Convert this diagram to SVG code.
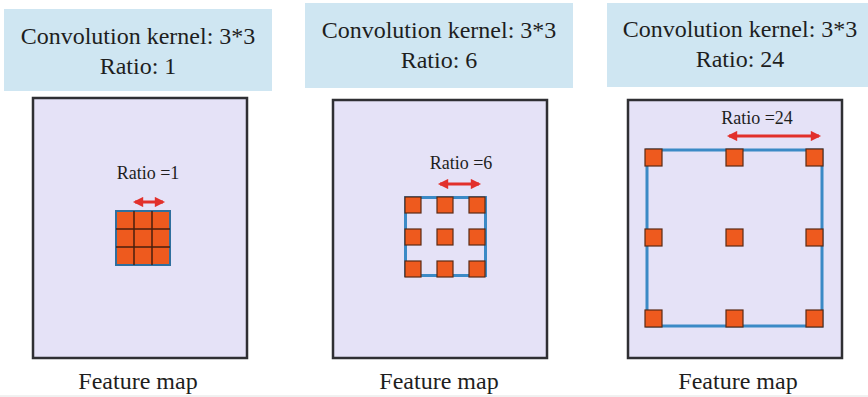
<svg xmlns="http://www.w3.org/2000/svg" width="868" height="397" viewBox="0 0 868 397">
  <style>
    .hdr { fill: #cfe6f2; }
    .hdr-text { font-family: "Liberation Serif", "Times New Roman", serif; font-size: 24px; fill: #1e1e1e; text-anchor: middle; }
    .map { fill: #e5e2f7; stroke: #2f2f33; stroke-width: 2.5; }
    .cap { font-family: "Liberation Serif", "Times New Roman", serif; font-size: 24px; fill: #1e1e1e; text-anchor: middle; }
    .lbl { font-family: "Liberation Serif", "Times New Roman", serif; font-size: 18px; fill: #1e1e1e; text-anchor: middle; }
    .field { fill: none; stroke: #3b8ac6; stroke-width: 3; }
    .cell { fill: #ee5a1e; stroke: #5a2a14; stroke-width: 1.2; }
    .span { stroke: #e2302b; stroke-width: 3; fill: none; marker-start: url(#head); marker-end: url(#head); }
  </style>
  <defs>
    <marker id="head" viewBox="0 0 10 10" refX="8" refY="5" markerWidth="3.8" markerHeight="3.4" orient="auto-start-reverse" markerUnits="strokeWidth">
      <path d="M0,0 L10,5 L0,10 z" fill="#e2302b"/>
    </marker>
  </defs>

  <rect width="868" height="397" fill="#ffffff"/>

  <!-- dilation 1 -->
  <g id="panel-ratio-1">
    <rect class="hdr" x="4" y="9" width="268" height="82"/>
    <text class="hdr-text" x="138" y="44">Convolution kernel: 3*3</text>
    <text class="hdr-text" x="138" y="74">Ratio: 1</text>
    <rect class="map" x="33" y="98" width="214" height="260"/>
    <text class="lbl" x="148" y="179">Ratio =1</text>
    <g id="kernel-1">
      <rect x="116" y="211" width="54" height="54" fill="#ee5a1e" stroke="#2f6f9e" stroke-width="2"/>
      <path d="M134,211 V265 M152,211 V265 M116,229 H170 M116,247 H170" stroke="#4a1f0e" stroke-width="1.5"/>
    </g>
    <text class="cap" x="138" y="389">Feature map</text>
  </g>

  <!-- dilation 6 -->
  <g id="panel-ratio-6">
    <rect class="hdr" x="305" y="3" width="268" height="85"/>
    <text class="hdr-text" x="439" y="38">Convolution kernel: 3*3</text>
    <text class="hdr-text" x="439" y="68">Ratio: 6</text>
    <rect class="map" x="333" y="100" width="214" height="258"/>
    <text class="lbl" x="461" y="169">Ratio =6</text>
    <g id="kernel-6">
      <rect class="field" x="405.5" y="197.5" width="80" height="78"/>
      <rect class="cell" x="405" y="197" width="16" height="16"/>
      <rect class="cell" x="437" y="197" width="16" height="16"/>
      <rect class="cell" x="469" y="197" width="16" height="16"/>
      <rect class="cell" x="405" y="229" width="16" height="16"/>
      <rect class="cell" x="437" y="229" width="16" height="16"/>
      <rect class="cell" x="469" y="229" width="16" height="16"/>
      <rect class="cell" x="405" y="261" width="16" height="16"/>
      <rect class="cell" x="437" y="261" width="16" height="16"/>
      <rect class="cell" x="469" y="261" width="16" height="16"/>
    </g>
    <text class="cap" x="439" y="389">Feature map</text>
  </g>

  <!-- dilation 24 -->
  <g id="panel-ratio-24">
    <rect class="hdr" x="607" y="3" width="261" height="84"/>
    <text class="hdr-text" x="740" y="37">Convolution kernel: 3*3</text>
    <text class="hdr-text" x="740" y="67">Ratio: 24</text>
    <rect class="map" x="628" y="100" width="214" height="258"/>
    <text class="lbl" x="757" y="124">Ratio =24</text>
    <g id="kernel-24">
      <rect class="field" x="647" y="150" width="175" height="176"/>
      <rect class="cell" x="645" y="149" width="17" height="17"/>
      <rect class="cell" x="726" y="149" width="17" height="17"/>
      <rect class="cell" x="806" y="149" width="17" height="17"/>
      <rect class="cell" x="645" y="229" width="17" height="17"/>
      <rect class="cell" x="726" y="229" width="17" height="17"/>
      <rect class="cell" x="806" y="229" width="17" height="17"/>
      <rect class="cell" x="645" y="310" width="17" height="17"/>
      <rect class="cell" x="726" y="310" width="17" height="17"/>
      <rect class="cell" x="806" y="310" width="17" height="17"/>
    </g>
    <text class="cap" x="738" y="389">Feature map</text>
  </g>

  <!-- double-headed span arrows -->
  <g id="arrows">
    <line class="span" x1="135" y1="202" x2="163" y2="202"/>
    <line class="span" x1="440" y1="184" x2="479" y2="184"/>
    <line class="span" x1="729" y1="136" x2="819" y2="136"/>
  </g>

  <line x1="0" y1="396" x2="868" y2="396" stroke="#e2e2e2" stroke-width="1"/>
</svg>
